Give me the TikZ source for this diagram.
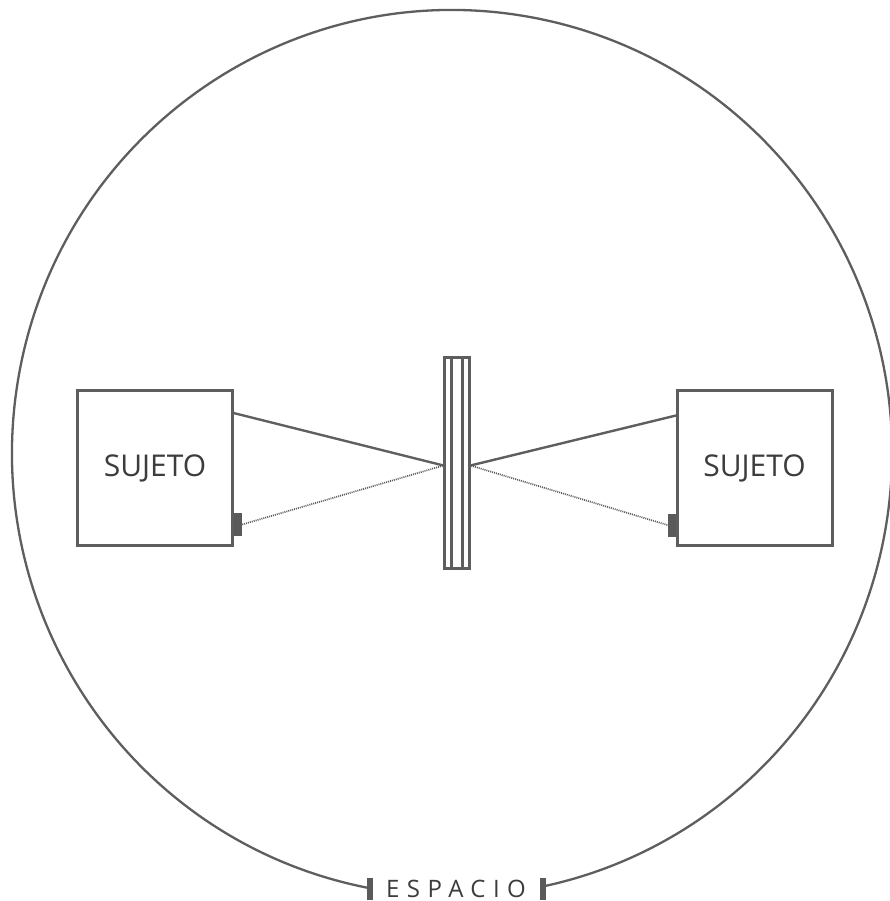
\documentclass[tikz,border=0pt]{standalone}
\usepackage{fontspec}
\setmainfont{Open Sans}
\definecolor{ln}{HTML}{5E5E5E}
\definecolor{dk}{HTML}{5A5A5A}
\definecolor{tx}{HTML}{3C3C3C}
\begin{document}
\begin{tikzpicture}[x=1pt,y=-1pt,
  subj/.style={draw=ln,line width=3pt,fill=white,minimum width=155pt,minimum height=155pt,inner sep=0pt,
    text=tx,font=\fontsize{30}{34}\selectfont},
  cam/.style={fill=dk,minimum width=8pt,minimum height=23pt,inner sep=0pt},
  endmark/.style={fill=dk,minimum width=6pt,minimum height=22pt,inner sep=0pt},
  solidray/.style={draw=ln,line width=2.4pt},
  dotray/.style={draw=ln,line width=1.7pt,dash pattern=on 1pt off 1pt},
]
\useasboundingbox (0,0) rectangle (890,901);
\fill[white] (0,0) rectangle (890,901);
% space boundary
\coordinate (c) at (452,453);
\draw[ln,line width=2.3pt] ([shift={(100.8:440 and 443)}]c) arc[start angle=100.8,end angle=438.07,x radius=440,y radius=443];
\node[endmark] (mL) at (369.5,889) {};
\node[endmark] (mR) at (543,889) {};
\node[text=tx,font=\fontsize{24}{28}\selectfont\addfontfeature{LetterSpace=31},anchor=base west,inner sep=0pt] (esp) at (386,897) {ESPACIO};
% subjects
\node[subj] (bL) at (155,468) {SUJETO};
\node[subj] (bR) at (754.5,468) {SUJETO};
\node[cam] (cL) at (238,524.5) {};
\node[cam] (cR) at (671.5,525) {};
% panel
\node[draw=ln,line width=2.8pt,minimum width=25.5pt,minimum height=211.5pt,inner sep=0pt] (panel) at (457,463) {};
\draw[ln,line width=2.8pt] (451.3,357) -- (451.3,569) (462.7,357) -- (462.7,569);
\coordinate (pL) at (443.5,465.5);
\coordinate (pR) at (470.5,465.5);
\coordinate (sL) at (233.5,413);
\coordinate (sR) at (676,415.5);
\draw[solidray] (sL) -- (pL);
\draw[solidray] (sR) -- (pR);
\draw[dotray] (cL.east) -- (pL);
\draw[dotray] (cR.west) -- (pR);
\end{tikzpicture}
\end{document}
